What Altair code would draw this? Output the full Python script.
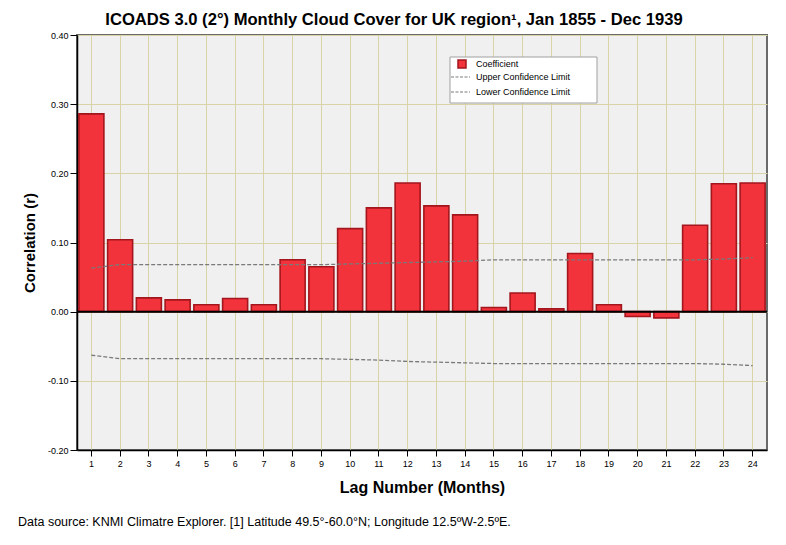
import altair as alt
import pandas as pd

lags = list(range(1, 25))
coefficient = [0.286, 0.104, 0.020, 0.017, 0.010, 0.019, 0.010, 0.075, 0.065, 0.120,
               0.150, 0.186, 0.153, 0.140, 0.006, 0.027, 0.004, 0.084, 0.010, -0.007,
               -0.009, 0.125, 0.185, 0.186]
upper = [0.063, 0.068, 0.068, 0.068, 0.068, 0.068, 0.068, 0.068, 0.068, 0.069,
         0.070, 0.071, 0.072, 0.073, 0.075, 0.075, 0.075, 0.075, 0.075, 0.075,
         0.075, 0.075, 0.076, 0.078]
lower = [-0.063, -0.068, -0.068, -0.068, -0.068, -0.068, -0.068, -0.068, -0.068, -0.069,
         -0.070, -0.072, -0.073, -0.074, -0.075, -0.075, -0.075, -0.075, -0.075, -0.075,
         -0.075, -0.075, -0.076, -0.078]
y_ticks = [-0.2, -0.1, 0.0, 0.1, 0.2, 0.3, 0.4]

df = pd.DataFrame({"lag": lags, "coef": coefficient, "upper": upper, "lower": lower})

FONT = "Liberation Sans"
W, H = 690, 415

xenc = alt.X("lag:O", title="Lag Number (Months)",
             scale=alt.Scale(paddingInner=0.13, paddingOuter=0.065),
             axis=alt.Axis(labelAngle=0, labelFontSize=9, labelFont=FONT, labelColor="#000",
                           bandPosition=0.5, grid=True, gridColor="#d9d4a5", gridWidth=1,
                           domainColor="#000", domainWidth=1.5, tickColor="#000", tickSize=6,
                           titleFontSize=16, titleFont=FONT, titleFontWeight="bold",
                           titlePadding=11, labelPadding=3))
yscale = alt.Scale(domain=[-0.2, 0.4], nice=False)
yaxis = alt.Axis(values=y_ticks,
                 labelExpr="(datum.value < 0 ? '-' : '') + format(abs(datum.value), '.2f')",
                 labelFontSize=9, labelFont=FONT, labelColor="#000",
                 grid=True, gridColor="#d9d4a5", gridWidth=1.2, domainColor="#000", domainWidth=1.5,
                 tickColor="#000", tickSize=7, titleFontSize=15, titleFont=FONT,
                 titleFontWeight="bold", titlePadding=10, labelPadding=2)

base = alt.Chart(df)
bars = base.mark_bar(color="#f2333b", stroke="#a3161d", strokeWidth=1.6).encode(
    x=xenc,
    y=alt.Y("coef:Q", title="Correlation (r)", scale=yscale, axis=yaxis),
)
up_line = base.mark_line(color="#7a7a7a", strokeDash=[4, 2], strokeWidth=1.3).encode(
    x=alt.X("lag:O"), y=alt.Y("upper:Q"))
lo_line = base.mark_line(color="#7a7a7a", strokeDash=[4, 2], strokeWidth=1.3).encode(
    x=alt.X("lag:O"), y=alt.Y("lower:Q"))
zero = alt.Chart(pd.DataFrame({"z": [0.0]})).mark_rule(color="#000", strokeWidth=2).encode(
    y=alt.Y("z:Q"))

one = alt.Chart(pd.DataFrame({"a": [1]}))
leg_box = one.mark_rect(fill="white", stroke="#a0a0a0", strokeWidth=1).encode(
    x=alt.value(373), x2=alt.value(520), y=alt.value(22), y2=alt.value(68))
leg_sq = one.mark_rect(fill="#f2333b", stroke="#a3161d", strokeWidth=1.5).encode(
    x=alt.value(381), x2=alt.value(389), y=alt.value(25), y2=alt.value(33))
leg_l1 = one.mark_rule(color="#7a7a7a", strokeDash=[3, 1.5], strokeWidth=1.2).encode(
    x=alt.value(374), x2=alt.value(393), y=alt.value(42))
leg_l2 = one.mark_rule(color="#7a7a7a", strokeDash=[3, 1.5], strokeWidth=1.2).encode(
    x=alt.value(374), x2=alt.value(393), y=alt.value(57))
leg_t1 = one.mark_text(text="Coefficient", align="left", baseline="middle", fontSize=9,
                       font=FONT, color="#000").encode(x=alt.value(399), y=alt.value(29))
leg_t2 = one.mark_text(text="Upper Confidence Limit", align="left", baseline="middle", fontSize=9,
                       font=FONT, color="#000").encode(x=alt.value(399), y=alt.value(42))
leg_t3 = one.mark_text(text="Lower Confidence Limit", align="left", baseline="middle", fontSize=9,
                       font=FONT, color="#000").encode(x=alt.value(399), y=alt.value(57))
footer = one.mark_text(
    text="Data source: KNMI Climatre Explorer. [1] Latitude 49.5°-60.0°N; Longitude 12.5ºW-2.5ºE.",
    align="left", baseline="middle", fontSize=12.5, font=FONT, color="#000").encode(
    x=alt.value(-59), y=alt.value(487))

chart = alt.layer(bars, up_line, lo_line, zero, leg_box, leg_sq, leg_l1, leg_l2,
                  leg_t1, leg_t2, leg_t3, footer).properties(
    width=W, height=H,
    title=alt.Title("ICOADS 3.0 (2°) Monthly Cloud Cover for UK region¹, Jan 1855 - Dec 1939",
                    fontSize=16.6, font=FONT, fontWeight="bold", color="#000",
                    anchor="middle", dx=-28, offset=2),
    autosize=alt.AutoSizeParams(type="none"),
    padding={"left": 69, "top": 27, "right": 11, "bottom": 88},
    background="white",
).configure_view(fill="#f0f0f0", stroke="#6a6a6a", strokeWidth=2)

chart.save("out.html", embed_options={"renderer": "svg", "actions": False})
